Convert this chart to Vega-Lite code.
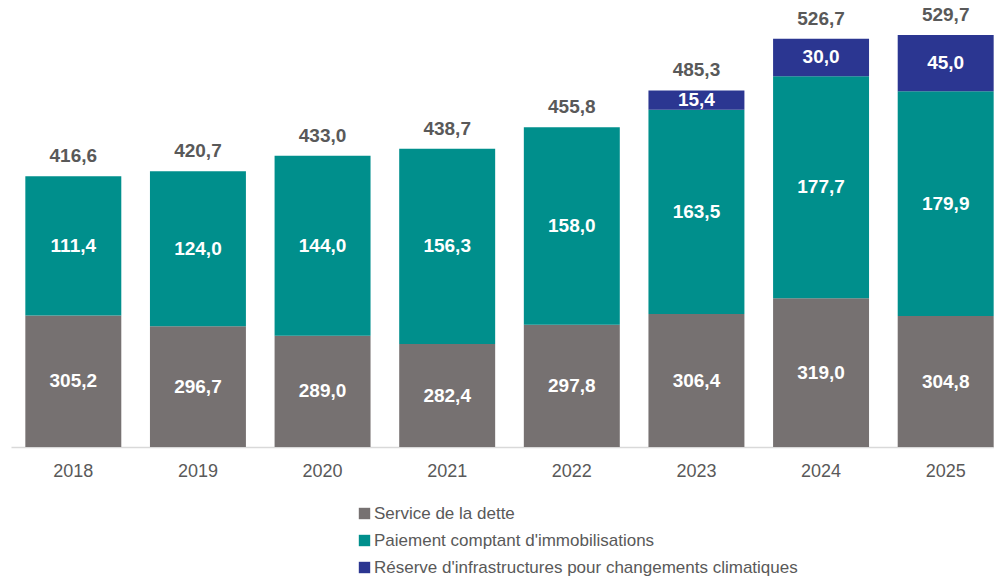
{
  "$schema": "https://vega.github.io/schema/vega-lite/v6.json",
  "width": 997,
  "height": 447,
  "autosize": {"type": "none"},
  "padding": {"left": 11, "top": 0, "right": 0, "bottom": 131},
  "background": "white",
  "config": {
    "view": {"stroke": null},
    "font": "Liberation Sans",
    "locale": {"number": {"decimal": ",", "thousands": " ", "grouping": [3], "currency": ["", " $"]}}
  },
  "data": {
    "values": [
      {"year": "2018", "series": "Service de la dette", "ord": 1, "value": 305.2},
      {"year": "2018", "series": "Paiement comptant d'immobilisations", "ord": 2, "value": 111.4},
      {"year": "2019", "series": "Service de la dette", "ord": 1, "value": 296.7},
      {"year": "2019", "series": "Paiement comptant d'immobilisations", "ord": 2, "value": 124.0},
      {"year": "2020", "series": "Service de la dette", "ord": 1, "value": 289.0},
      {"year": "2020", "series": "Paiement comptant d'immobilisations", "ord": 2, "value": 144.0},
      {"year": "2021", "series": "Service de la dette", "ord": 1, "value": 282.4},
      {"year": "2021", "series": "Paiement comptant d'immobilisations", "ord": 2, "value": 156.3},
      {"year": "2022", "series": "Service de la dette", "ord": 1, "value": 297.8},
      {"year": "2022", "series": "Paiement comptant d'immobilisations", "ord": 2, "value": 158.0},
      {"year": "2023", "series": "Service de la dette", "ord": 1, "value": 306.4},
      {"year": "2023", "series": "Paiement comptant d'immobilisations", "ord": 2, "value": 163.5},
      {"year": "2023", "series": "Réserve d'infrastructures pour changements climatiques", "ord": 3, "value": 15.4},
      {"year": "2024", "series": "Service de la dette", "ord": 1, "value": 319.0},
      {"year": "2024", "series": "Paiement comptant d'immobilisations", "ord": 2, "value": 177.7},
      {"year": "2024", "series": "Réserve d'infrastructures pour changements climatiques", "ord": 3, "value": 30.0},
      {"year": "2025", "series": "Service de la dette", "ord": 1, "value": 304.8},
      {"year": "2025", "series": "Paiement comptant d'immobilisations", "ord": 2, "value": 179.9},
      {"year": "2025", "series": "Réserve d'infrastructures pour changements climatiques", "ord": 3, "value": 45.0}
    ]
  },
  "encoding": {
    "x": {
      "field": "year", "type": "ordinal", "title": null,
      "scale": {"paddingInner": 0.23, "paddingOuter": 0.115},
      "axis": {
        "labelAngle": 0, "labelFont": "Liberation Sans", "labelFontSize": 18, "labelColor": "#595959",
        "labelPadding": 15, "ticks": false, "domainColor": "#d9d9d9", "domainWidth": 1.5
      }
    }
  },
  "layer": [
    {
      "mark": {"type": "bar", "clip": true},
      "encoding": {
        "y": {
          "field": "value", "type": "quantitative", "stack": "zero",
          "scale": {"domain": [200, 557.6], "nice": false, "zero": false},
          "axis": null
        },
        "color": {
          "field": "series", "type": "nominal",
          "scale": {
            "domain": ["Service de la dette", "Paiement comptant d'immobilisations", "Réserve d'infrastructures pour changements climatiques"],
            "range": ["#767171", "#008F8C", "#2B3691"]
          },
          "legend": {
            "title": null, "orient": "none", "legendX": 345, "legendY": 505,
            "direction": "vertical", "symbolType": "square", "symbolSize": 130,
            "symbolStrokeWidth": 0, "labelFont": "Liberation Sans", "labelFontSize": 17,
            "labelColor": "#595959", "rowPadding": 9, "labelOffset": 1, "labelLimit": 600
          }
        },
        "order": {"field": "ord", "type": "quantitative", "sort": "ascending"}
      }
    },
    {
      "transform": [
        {"stack": "value", "groupby": ["year"], "sort": [{"field": "ord", "order": "ascending"}], "as": ["v0", "v1"]},
        {"calculate": "(max(datum.v0, 200) + datum.v1) / 2", "as": "mid"}
      ],
      "mark": {"type": "text", "color": "white", "fontWeight": "bold", "fontSize": 19, "font": "Liberation Sans", "baseline": "middle"},
      "encoding": {
        "y": {"field": "mid", "type": "quantitative"},
        "text": {"field": "value", "type": "quantitative", "format": ".1f"}
      }
    },
    {
      "transform": [
        {"aggregate": [{"op": "sum", "field": "value", "as": "total"}], "groupby": ["year"]}
      ],
      "mark": {"type": "text", "color": "#595959", "fontWeight": "bold", "fontSize": 19, "font": "Liberation Sans", "baseline": "middle", "dy": -20},
      "encoding": {
        "y": {"field": "total", "type": "quantitative"},
        "text": {"field": "total", "type": "quantitative", "format": ".1f"}
      }
    }
  ]
}
